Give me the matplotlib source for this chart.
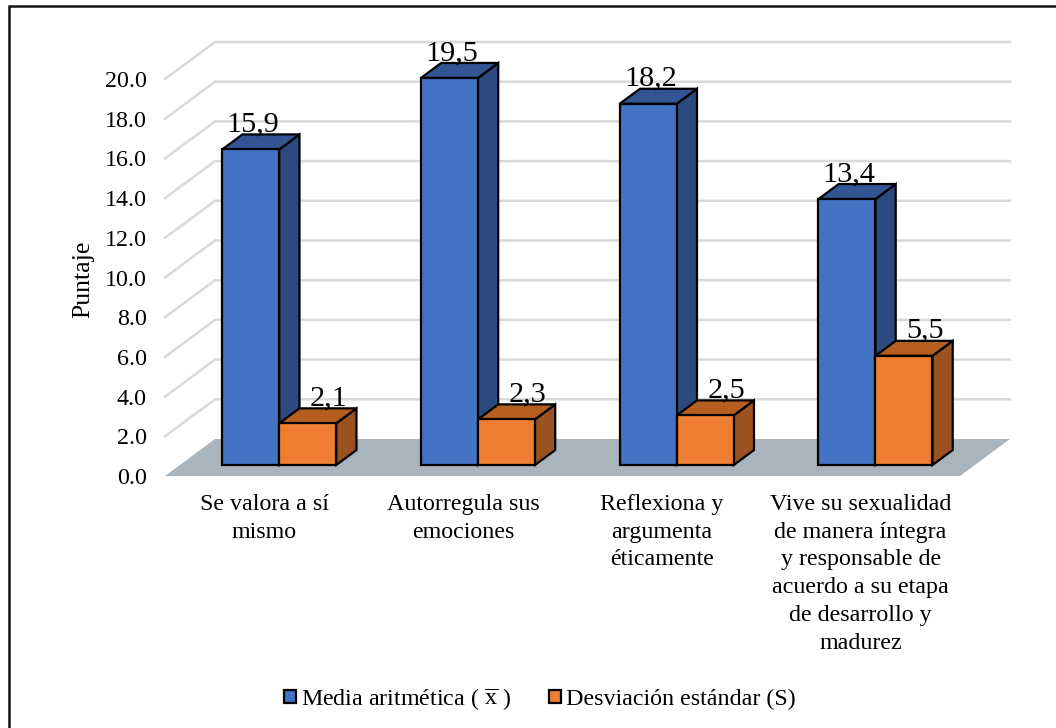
import matplotlib
matplotlib.use("Agg")
import matplotlib.pyplot as plt
from matplotlib.lines import Line2D
from matplotlib.patches import Polygon, Patch

categories = ["Se valora a sí\nmismo", "Autorregula sus\nemociones", "Reflexiona y\nargumenta\néticamente",
              "Vive su sexualidad\nde manera íntegra\ny responsable de\nacuerdo a su etapa\nde desarrollo y\nmadurez"]
media = [15.9, 19.5, 18.2, 13.4]
desviacion = [2.1, 2.3, 2.5, 5.5]
media_labels = ["15,9", "19,5", "18,2", "13,4"]
desviacion_labels = ["2,1", "2,3", "2,5", "5,5"]
yticks = [0, 2, 4, 6, 8, 10, 12, 14, 16, 18, 20]

plt.rcParams["font.family"] = ["Liberation Serif", "DejaVu Serif"]
plt.rcParams["mathtext.fontset"] = "custom"
plt.rcParams["mathtext.rm"] = "Liberation Serif"

W, H = 1056, 728
fig = plt.figure(figsize=(W / 100, H / 100), dpi=100)
# only the top and left of the frame are inside the picture
fig.add_artist(Line2D([9 / W, 9 / W, 1], [0, 1 - 6 / H, 1 - 6 / H], color="#111111", lw=1.8,
                      solid_joinstyle="miter"))

# plot box is the front edge of the floor: 165-960 px wide, 0 at y=476, 20 at y=79
ax = fig.add_axes([165 / W, 1 - 476 / H, 795 / W, 397 / H])
ax.set_xlim(-0.5, 3.5)
ax.set_ylim(0, 20)
for s in ax.spines.values():
    s.set_visible(False)

# oblique projection, floor depth in data units
DX, DY = 50 / 198.75, 37 / 19.85
BASE = 0.297   # where the bars sit on the floor
DEPTH = 0.405  # how deep the bars are
BAR_W = 57 / 198.75


def shift(x, y, d):
    return x + d * DX, y + d * DY


def bar3d(x, value, front, top, side, z):
    a = shift(x, 0, BASE)
    b = shift(x + BAR_W, 0, BASE)
    c = shift(x + BAR_W, value, BASE)
    d = shift(x, value, BASE)
    e = shift(x + BAR_W, 0, BASE + DEPTH)
    f = shift(x + BAR_W, value, BASE + DEPTH)
    g = shift(x, value, BASE + DEPTH)
    for pts, col in (([b, e, f, c], side), ([d, c, f, g], top), ([a, b, c, d], front)):
        ax.add_patch(Polygon(pts, closed=True, fc=col, ec="black", lw=1.6, zorder=z,
                             joinstyle="miter", clip_on=False))


def value_label(x, value, text, dx):
    px = shift(x, value, BASE)[0]
    py = shift(x, value, BASE + DEPTH)[1]
    ax.annotate(text, (px, py), xytext=(dx, 3), textcoords="offset pixels", ha="center", va="baseline",
                fontsize=21.8, color="black", zorder=5, annotation_clip=False)


# floor and wall lines
ax.add_patch(Polygon([shift(-0.5, 0, 0), shift(3.5, 0, 0), shift(3.5, 0, 1), shift(-0.5, 0, 1)],
                     closed=True, fc="#aab4bc", ec="none", zorder=1, clip_on=False))
for v in yticks[1:]:
    p0 = shift(-0.5, v, 0)
    p1 = shift(-0.5, v, 1)
    p2 = shift(3.5, v, 1)
    ax.plot([p0[0], p1[0], p2[0]], [p0[1], p1[1], p2[1]], color="#d9d9d9", lw=1.8, zorder=1,
            clip_on=False, solid_joinstyle="miter")

for i in range(len(categories)):
    bar3d(i - BAR_W, media[i], "#4472c4", "#335593", "#2c4a80", 3)
    bar3d(i, desviacion[i], "#ed7d31", "#b55e20", "#9a5320", 4)
    value_label(i - BAR_W / 2, media[i], media_labels[i], 2)
    value_label(i + BAR_W / 2, desviacion[i], desviacion_labels[i], 21)

ax.set_yticks(yticks)
ax.set_yticklabels(["%.1f" % v for v in yticks], fontsize=17.3)
ax.set_xticks(range(len(categories)))
ax.set_xticklabels(categories, fontsize=17.3, linespacing=1.42, va="top")
ax.tick_params(axis="y", length=0, pad=13)
ax.tick_params(axis="x", length=0, pad=13)
fig.text(83 / W, 1 - 279 / H, "Puntaje", rotation=90, ha="center", va="center", fontsize=18.5)

handles = [Patch(fc="#4472c4", ec="black", lw=1.6), Patch(fc="#ed7d31", ec="black", lw=1.6)]
labels = [r"Media aritmética ( $\overline{\mathrm{x}}$ )", "Desviación estándar (S)"]
fig.legend(handles, labels, loc="center", bbox_to_anchor=(540 / W, 1 - 699 / H), ncol=2, frameon=False,
           fontsize=17.3, handlelength=0.5, handleheight=0.5, handletextpad=0.2, columnspacing=1.6)

fig.savefig("out.png", dpi=100)
plt.close()
